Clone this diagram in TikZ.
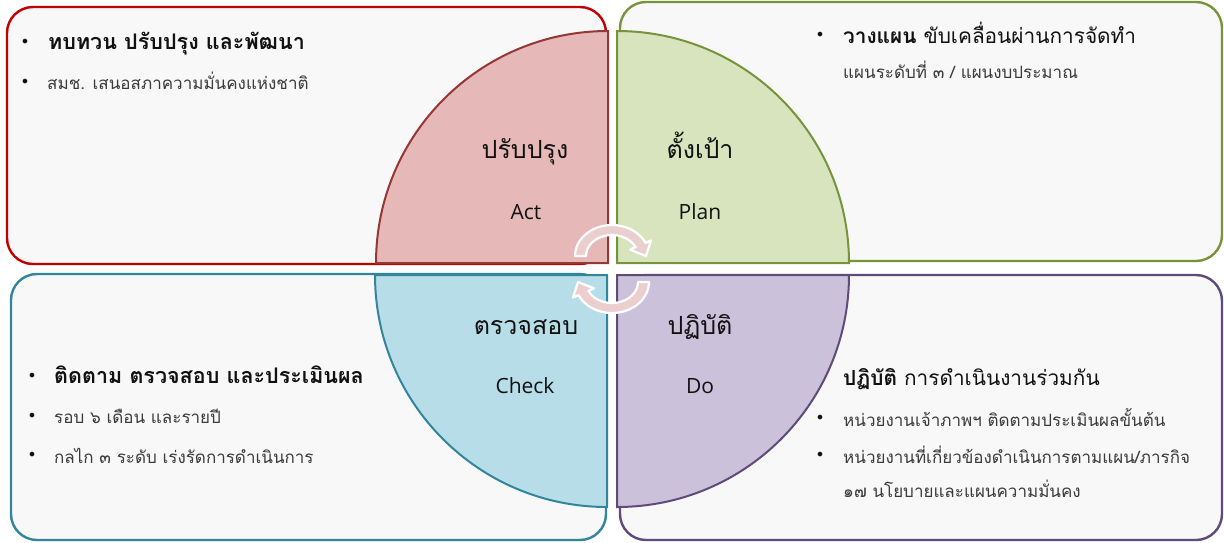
\documentclass[tikz,border=0pt]{standalone}
\usepackage{fontspec}
\setmainfont{Open Sans}
\newfontfamily\thai[Script=Thai]{Loma}
\newfontfamily\bulfont{DejaVu Sans}
\definecolor{boxbg}{HTML}{F8F8F8}
\definecolor{redline}{HTML}{C00000}
\definecolor{actfill}{HTML}{E6B9B8}
\definecolor{actline}{HTML}{953735}
\definecolor{greenline}{HTML}{77933C}
\definecolor{planfill}{HTML}{D7E4BD}
\definecolor{tealline}{HTML}{31859C}
\definecolor{checkfill}{HTML}{B7DEE8}
\definecolor{purpline}{HTML}{604A7B}
\definecolor{dofill}{HTML}{CCC1DA}
\definecolor{arrowfill}{HTML}{EBCFCF}
\definecolor{txt}{HTML}{111111}
\definecolor{subtxt}{HTML}{3A3A3A}
\begin{document}
\begin{tikzpicture}[x=1pt,y=-1pt,
  box/.style={draw, rounded corners=26pt, line width=2.4pt, fill=boxbg,
    inner sep=0pt, outer sep=0pt, anchor=north west},
  quarter/.style={line width=2pt},
  qthai/.style={anchor=base, text=txt, font=\thai\fontsize{25}{29}\selectfont},
  qeng/.style={anchor=base, text=txt, font=\fontsize{21}{25}\selectfont},
  title/.style={anchor=base west, text=txt, inner sep=0pt, font=\thai\bfseries\fontsize{21.5}{25}\selectfont},
  mixtitle/.style={title, font=\thai\bfseries\fontsize{20.8}{25}\selectfont},
  item/.style={anchor=base west, text=subtxt, inner sep=0pt, font=\thai\fontsize{17}{21}\selectfont},
  bul/.style={text=txt, inner sep=0pt, font=\bulfont\fontsize{16}{18}\selectfont},
  cyc/.style={fill=arrowfill, draw=white, line width=2.2pt, line join=round}
]
\useasboundingbox (0,0) rectangle (1224,542);
\fill[white] (0,0) rectangle (1224,542);

% boxes
\node[box, draw=redline, minimum width=599pt, minimum height=257pt] (tlbox) at (7,7) {};
\node[box, draw=greenline, minimum width=602pt, minimum height=259pt] (trbox) at (620,2) {};
\node[box, draw=tealline, minimum width=595pt, minimum height=266pt] (blbox) at (11,274) {};
\node[box, draw=purpline, minimum width=602pt, minimum height=265pt] (brbox) at (620,275) {};

% quarter circles
\draw[quarter, draw=actline, fill=actfill] (608,263) -- (376,263) arc[start angle=180, end angle=270, radius=232] -- cycle;
\draw[quarter, draw=greenline, fill=planfill] (617,263) -- (617,31) arc[start angle=270, end angle=360, radius=232] -- cycle;
\draw[quarter, draw=tealline, fill=checkfill] (607,275) -- (607,507) arc[start angle=90, end angle=180, radius=232] -- cycle;
\draw[quarter, draw=purpline, fill=dofill] (617,275) -- (849,275) arc[start angle=0, end angle=90, radius=232] -- cycle;

% cycle arrows
\draw[cyc] (575,256) arc[start angle=180, end angle=335, x radius=37, y radius=31]
  -- (651,240.4) -- (646,256) -- (630.1,249.7) -- (635.6,247.1)
  arc[start angle=335, end angle=180, x radius=26, y radius=21] -- cycle;
\draw[cyc] (649,282) arc[start angle=0, end angle=155, x radius=37, y radius=31]
  -- (573,297.6) -- (578,282) -- (593.9,288.3) -- (588.4,290.9)
  arc[start angle=155, end angle=0, x radius=26, y radius=21] -- cycle;

% quarter labels
\node[qthai] (actth) at (525,158) {ปรับปรุง};
\node[qeng] (acten) at (526,219) {Act};
\node[qthai] (planth) at (700,158) {ตั้งเป้า};
\node[qeng] (planen) at (700,219) {Plan};
\node[qthai] (checkth) at (526,334) {ตรวจสอบ};
\node[qeng] (checken) at (525,393) {Check};
\node[qthai] (doth) at (700,334) {ปฏิบัติ};
\node[qeng] (doen) at (700,393) {Do};

% top-left text
\node[bul] (b1) at (25,43) {•};
\node[title] (t1) at (48,49) {ทบทวน ปรับปรุง และพัฒนา};
\node[bul] (b2) at (25,83) {•};
\node[item] (t2) at (47,89) {สมช. เสนอสภาความมั่นคงแห่งชาติ};

% top-right text
\node[bul] (b3) at (820,36) {•};
\node[mixtitle] (t3) at (843,43) {วางแผน\mdseries\ ขับเคลื่อนผ่านการจัดทำ};
\node[item] (t4) at (843,78) {แผนระดับที่ ๓ / แผนงบประมาณ};

% bottom-left text
\node[bul] (b5) at (32,377) {•};
\node[title] (t5) at (54,383) {ติดตาม ตรวจสอบ และประเมินผล};
\node[bul] (b6) at (32,417) {•};
\node[item] (t6) at (54,423) {รอบ ๖ เดือน และรายปี};
\node[bul] (b7) at (32,456) {•};
\node[item] (t7) at (54,463) {กลไก ๓ ระดับ เร่งรัดการดำเนินการ};

% bottom-right text
\node[mixtitle] (t8) at (843,385) {ปฏิบัติ\mdseries\ การดำเนินงานร่วมกัน};
\node[bul] (b9) at (820,419) {•};
\node[item] (t9) at (843,426) {หน่วยงานเจ้าภาพฯ ติดตามประเมินผลขั้นต้น};
\node[bul] (b10) at (820,456) {•};
\node[item] (t10) at (843,463) {หน่วยงานที่เกี่ยวข้องดำเนินการตามแผน/ภารกิจ};
\node[item] (t11) at (843,497) {๑๗ นโยบายและแผนความมั่นคง};
\end{tikzpicture}
\end{document}
